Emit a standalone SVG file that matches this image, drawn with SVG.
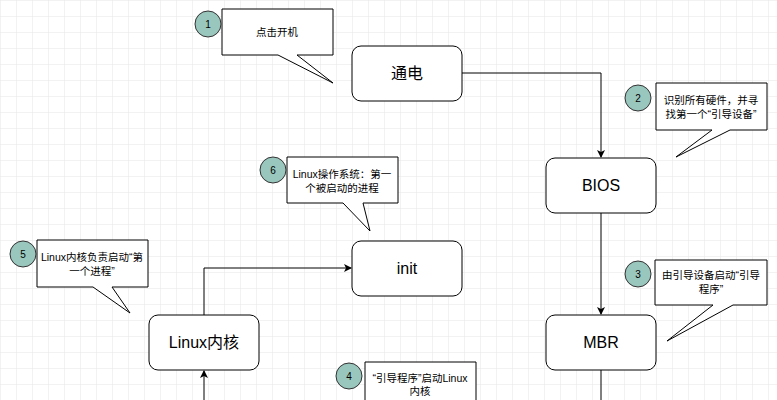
<svg xmlns="http://www.w3.org/2000/svg" width="777" height="400" viewBox="0 0 777 400">
<defs>
<pattern id="g" width="16" height="16" patternUnits="userSpaceOnUse"><path d="M16 0H0V16" fill="none" stroke="#e6e6e6" stroke-width="1"/></pattern>
<marker id="a" markerWidth="8" markerHeight="8" refX="7" refY="4" orient="auto" markerUnits="userSpaceOnUse"><path d="M0,0L8,4L0,8L2,4z" fill="#000"/></marker>
</defs>
<style>
.n{fill:#fff;stroke:#000;stroke-width:1}
.t{font-family:"Liberation Sans","Noto Sans CJK SC",sans-serif;font-size:16px;text-anchor:middle;fill:#000}
.c{fill:#fff;stroke:#000;stroke-width:1}
.s{font-family:"Liberation Sans","Noto Sans CJK SC",sans-serif;font-size:10.5px;text-anchor:middle;fill:#000}
.b{fill:#9ac7bd;stroke:#333;stroke-width:1}
.bn{font-family:"Liberation Sans",sans-serif;font-size:10px;text-anchor:middle;fill:#000}
.e{fill:none;stroke:#000;stroke-width:1}
</style>
<rect width="777" height="400" fill="#fff"/>
<rect width="777" height="400" fill="url(#g)"/>
<g id="connectors">
<path class="e" d="M462,73H601V157" marker-end="url(#a)"/>
<path class="e" d="M601,213V314" marker-end="url(#a)"/>
<path class="e" d="M601,370V400"/>
<path class="e" d="M204,400V371" marker-end="url(#a)"/>
<path class="e" d="M204,315V268H351" marker-end="url(#a)"/>
</g>
<g id="n-tongdian"><rect class="n" x="352" y="46" width="110" height="55" rx="9"/><text class="t" x="407" y="79">通电</text></g>
<g id="n-bios"><rect class="n" x="546" y="158" width="110" height="55" rx="9"/><text class="t" x="601" y="191">BIOS</text></g>
<g id="n-mbr"><rect class="n" x="546" y="315" width="110" height="55" rx="9"/><text class="t" x="601" y="348">MBR</text></g>
<g id="n-init"><rect class="n" x="352" y="241" width="110" height="55" rx="9"/><text class="t" x="407" y="274">init</text></g>
<g id="n-kernel"><rect class="n" x="149" y="315" width="110" height="55" rx="9"/><text class="t" x="204" y="348">Linux内核</text></g>
<g id="callout-1"><path class="c" d="M222,9H333V55H297L333,83L278,55H222Z"/><circle class="b" cx="208" cy="24" r="13"/><text class="bn" x="208" y="28">1</text><text class="s" x="277" y="36">点击开机</text></g>
<g id="callout-2"><path class="c" d="M656,83H767V130H730L676,157L712,130H656Z"/><circle class="b" cx="638" cy="98" r="13"/><text class="bn" x="638" y="102">2</text><text class="s" x="711" y="104">识别所有硬件，并寻</text><text class="s" x="711" y="118">找第一个“引导设备”</text></g>
<g id="callout-3"><path class="c" d="M655,260H767V305H733L667,341L713,305H655Z"/><circle class="b" cx="638" cy="274" r="13"/><text class="bn" x="638" y="278">3</text><text class="s" x="711" y="279">由引导设备启动“引导</text><text class="s" x="711" y="293">程序”</text></g>
<g id="callout-4"><path class="c" d="M365,362H476V401H365Z"/><circle class="b" cx="349" cy="376" r="13"/><text class="bn" x="349" y="380">4</text><text class="s" x="420" y="382">“引导程序”启动Linux</text><text class="s" x="420" y="395">内核</text></g>
<g id="callout-5"><path class="c" d="M37,240H148V287H112L130,313L93,287H37Z"/><circle class="b" cx="23" cy="254" r="13"/><text class="bn" x="23" y="258">5</text><text class="s" x="92" y="261">Linux内核负责启动“第</text><text class="s" x="92" y="275">一个进程”</text></g>
<g id="callout-6"><path class="c" d="M287,157H398V203H363L370,231L343,203H287Z"/><circle class="b" cx="273" cy="170" r="13"/><text class="bn" x="273" y="174">6</text><text class="s" x="342" y="178">Linux操作系统：第一</text><text class="s" x="342" y="192">个被启动的进程</text></g>
</svg>
